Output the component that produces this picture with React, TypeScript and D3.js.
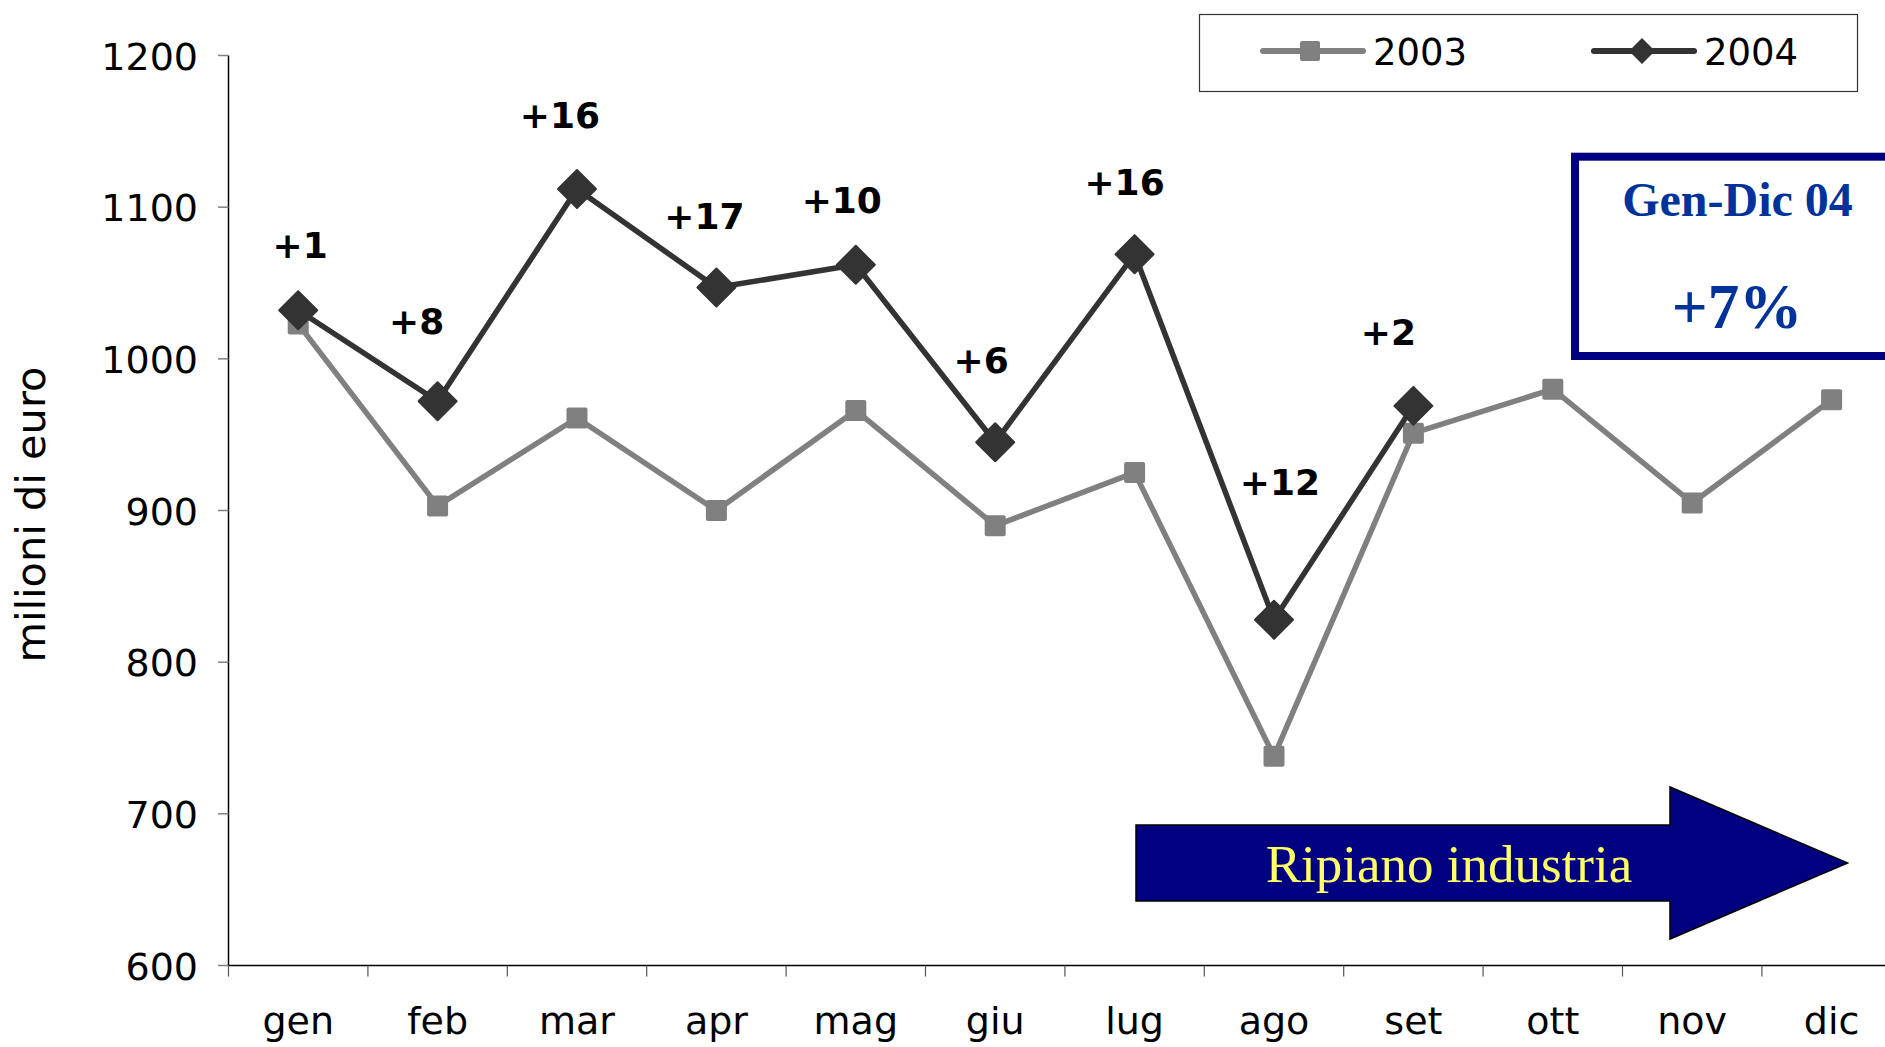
import React from "react";
import * as d3 from "d3";

const months = ["gen", "feb", "mar", "apr", "mag", "giu", "lug", "ago", "set", "ott", "nov", "dic"];
const values2003 = [1023, 903, 961, 900, 966, 890, 925, 738, 951, 980, 905, 973];
const values2004 = [1032, 972, 1112, 1047, 1062, 945, 1069, 828, 969];
const growthLabels = ["+1", "+8", "+16", "+17", "+10", "+6", "+16", "+12", "+2"];
const yTicks = [600, 700, 800, 900, 1000, 1100, 1200];
const seriesNames = ["2003", "2004"];

// layout offsets (dx, dy) for the growth annotations relative to the 2004 points
const labelOffsets: [number, number][] = [
  [2, -52], [-21, -67], [-17, -61], [-12, -59], [-14, -52], [-14, -69], [-10, -59], [6, -125], [-25, -61],
];

const W = 1885;
const H = 1047;
const GRAY = "#808080";
const DARK = "#333333";
const SANS = "'DejaVu Sans', Verdana, sans-serif";
const SERIF = "'Liberation Serif', 'Times New Roman', serif";

export default function App() {
  const x = d3.scaleBand<string>().domain(months).range([228.5, 1901.3]).padding(0);
  const y = d3.scaleLinear().domain([600, 1200]).range([965.5, 55.5]);
  const cx = (i: number) => (x(months[i]) as number) + x.bandwidth() / 2;

  const line = d3
    .line<number>()
    .x((_, i) => cx(i))
    .y((d) => y(d));

  const diamond = (px: number, py: number, r: number) =>
    `M${px},${py - r}L${px + r},${py}L${px},${py + r}L${px - r},${py}Z`;

  const boundaries = d3.range(months.length + 1).map((k) => 228.5 + k * x.bandwidth());

  return (
    <svg
      width={W}
      height={H}
      style={{ position: "absolute", left: 0, top: 0, display: "block", background: "#fff" }}
    >
      <rect x={0} y={0} width={W} height={H} fill="#fff" />

      {/* y axis */}
      <line x1={228.5} x2={228.5} y1={y(1200)} y2={y(600)} stroke="#000" strokeWidth={1.5} />
      {yTicks.map((t) => (
        <g key={t}>
          <line x1={218} x2={228.5} y1={y(t)} y2={y(t)} stroke={GRAY} strokeWidth={1.5} />
          <text
            x={198}
            y={y(t) + 14}
            textAnchor="end"
            fontFamily={SANS}
            fontSize={38}
            fill="#000"
          >
            {t}
          </text>
        </g>
      ))}

      {/* x axis */}
      <line x1={228.5} x2={W} y1={y(600)} y2={y(600)} stroke="#000" strokeWidth={1.5} />
      {boundaries.map((b, k) => (
        <line key={k} x1={b} x2={b} y1={y(600)} y2={y(600) + 11} stroke="#555" strokeWidth={1.2} />
      ))}
      {months.map((m, i) => (
        <text key={m} x={cx(i)} y={1034} textAnchor="middle" fontFamily={SANS} fontSize={38} fill="#000">
          {m}
        </text>
      ))}

      {/* y label */}
      <text
        transform={`translate(45,514.5) rotate(-90)`}
        textAnchor="middle"
        fontFamily={SANS}
        fontSize={41.5}
        fill="#000"
      >
        milioni di euro
      </text>

      {/* 2003 series */}
      <path d={line(values2003) as string} fill="none" stroke={GRAY} strokeWidth={5.5} strokeLinejoin="round" />
      {values2003.map((v, i) => (
        <rect key={i} x={cx(i) - 10.5} y={y(v) - 10.5} width={21} height={21} rx={2} fill={GRAY} />
      ))}

      {/* 2004 series */}
      <path d={line(values2004) as string} fill="none" stroke={DARK} strokeWidth={5.5} strokeLinejoin="round" />
      {values2004.map((v, i) => (
        <path key={i} d={diamond(cx(i), y(v), 19)} fill={DARK} stroke={DARK} strokeWidth={2} strokeLinejoin="round" />
      ))}

      {/* growth labels */}
      {growthLabels.map((l, i) => (
        <text
          key={i}
          x={cx(i) + labelOffsets[i][0]}
          y={y(values2004[i]) + labelOffsets[i][1]}
          textAnchor="middle"
          fontFamily={SANS}
          fontWeight="bold"
          fontSize={36}
          fill="#000"
        >
          {l}
        </text>
      ))}

      {/* legend */}
      <rect x={1199.5} y={14.5} width={658} height={77} fill="#fff" stroke="#333" strokeWidth={1.2} />
      <line x1={1263} x2={1363} y1={51} y2={51} stroke={GRAY} strokeWidth={6} strokeLinecap="round" />
      <rect x={1300} y={41} width={20} height={20} rx={2} fill={GRAY} />
      <text x={1373} y={65} fontFamily={SANS} fontSize={37} fill="#000">
        {seriesNames[0]}
      </text>
      <line x1={1594} x2={1694} y1={51} y2={51} stroke={DARK} strokeWidth={6} strokeLinecap="round" />
      <path d={diamond(1642, 51, 13)} fill={DARK} />
      <text x={1704} y={65} fontFamily={SANS} fontSize={37} fill="#000">
        {seriesNames[1]}
      </text>

      {/* Gen-Dic box */}
      <rect x={1575} y={156.7} width={400} height={199.3} fill="#fff" stroke="#000080" strokeWidth={8} />
      <text x={1737.5} y={216} textAnchor="middle" fontFamily={SERIF} fontWeight="bold" fontSize={48} fill="#003399">
        Gen-Dic 04
      </text>
      <text x={1737} y={328} textAnchor="middle" fontFamily={SERIF} fontWeight="bold" fontSize={63} fill="#003399">
        +7%
      </text>

      {/* arrow */}
      <path
        d="M1136,825L1670,825L1670,787L1847.6,863L1670,939L1670,901L1136,901Z"
        fill="#000080"
        stroke="#000"
        strokeWidth={1.5}
      />
      <text x={1449} y={882} textAnchor="middle" fontFamily={SERIF} fontSize={53} fill="#FFFF66">
        Ripiano industria
      </text>
    </svg>
  );
}
